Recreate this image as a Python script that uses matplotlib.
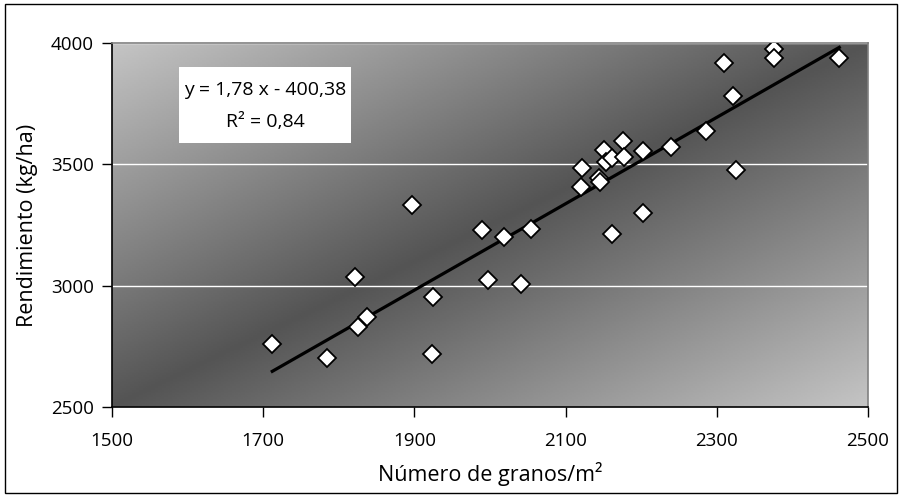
import numpy as np
import matplotlib.pyplot as plt
from matplotlib.patches import Rectangle

# data
granos = [1712, 1784, 1822, 1826, 1837, 1897, 1923, 1925, 1990, 1997,
          2018, 2041, 2054, 2121, 2122, 2144, 2146, 2151, 2154, 2162,
          2162, 2176, 2177, 2203, 2203, 2239, 2286, 2309, 2321, 2325,
          2375, 2375, 2462]
rendimiento = [2760, 2700, 3037, 2828, 2872, 3333, 2717, 2954, 3230, 3023,
               3199, 3006, 3232, 3405, 3484, 3445, 3429, 3560, 3508, 3212,
               3525, 3597, 3529, 3555, 3301, 3570, 3639, 3916, 3783, 3477,
               3975, 3937, 3940]
pendiente = 1.78
ordenada = -400.38
r2 = 0.84
xticks = [1500, 1700, 1900, 2100, 2300, 2500]
yticks = [2500, 3000, 3500, 4000]

plt.rcParams['font.family'] = ['Open Sans', 'DejaVu Sans']
fs = 13.5

fig = plt.figure(figsize=(9.03, 4.97), dpi=100)
ax = fig.add_axes([112 / 903, 90 / 497, 756 / 903, 364 / 497])

# diagonal gradient background, light corners, dark band in the middle
u, v = np.meshgrid(np.linspace(0, 1, 400), np.linspace(1, 0, 200))
t = (u + (1 - v)) / 2
light, dark = 0.77, 0.33
grad = dark + (light - dark) * np.abs(2 * t - 1)
ax.imshow(grad, extent=[0, 1, 0, 1], transform=ax.transAxes, aspect='auto',
          cmap='gray', vmin=0, vmax=1, zorder=0, interpolation='bilinear')

ax.grid(axis='y', color='white', lw=1, zorder=0.5)
ax.set_axisbelow(True)

x_line = np.array([min(granos), max(granos)])
ax.plot(x_line, pendiente * x_line + ordenada, color='black', lw=2.3, zorder=3)
ax.plot(granos, rendimiento, ls='none', marker='D', ms=9.4, mfc='white',
        mec='black', mew=1.3, zorder=4)

ax.set_xlim(1500, 2500)
ax.set_ylim(2500, 4000)
ax.set_xticks(xticks)
ax.set_yticks(yticks)
ax.tick_params(direction='out', length=7, width=1, labelsize=fs, colors='black')
ax.tick_params(axis='y', pad=6)
ax.tick_params(axis='x', pad=11)

for s in ['left', 'bottom']:
    ax.spines[s].set_color('black')
    ax.spines[s].set_linewidth(1.2)
for s in ['right', 'top']:
    ax.spines[s].set_color('#808080')
    ax.spines[s].set_linewidth(1.2)

ax.set_xlabel('Número de granos/m²', fontsize=15.5, labelpad=9)
ax.set_ylabel('Rendimiento (kg/ha)', fontsize=15.5, labelpad=9)

# equation box
ax.add_patch(Rectangle((0.0886, 0.7245), 0.2275, 0.2085, transform=ax.transAxes,
                       facecolor='white', edgecolor='none', zorder=5))
eq = 'y = {:.2f} x - {:.2f}'.format(pendiente, -ordenada).replace('.', ',')
ax.text(0.2025, 0.871, eq, transform=ax.transAxes, ha='center', va='center',
        fontsize=14, zorder=6)
ax.text(0.2025, 0.784, 'R² = {:.2f}'.format(r2).replace('.', ','),
        transform=ax.transAxes, ha='center', va='center', fontsize=14, zorder=6)

# outer frame
fig.patches.append(Rectangle((5 / 903, 4 / 497), 892 / 903, 489 / 497,
                             transform=fig.transFigure, fill=False,
                             edgecolor='black', lw=1))

fig.savefig('out.png', dpi=100)
